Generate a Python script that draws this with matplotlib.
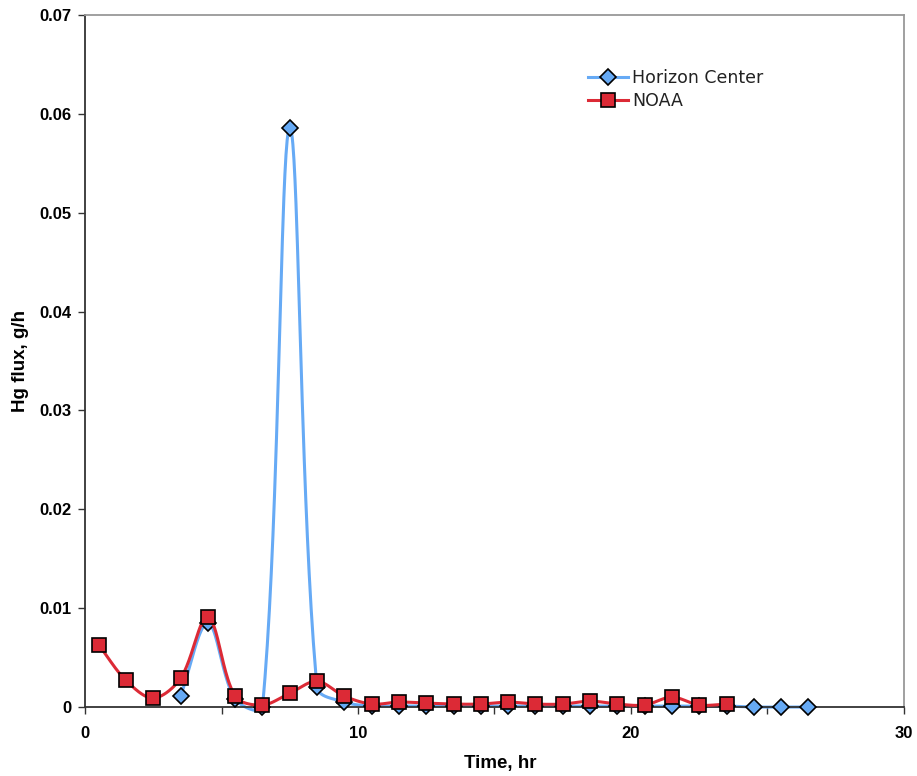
import numpy as np
import matplotlib
matplotlib.use("Agg")
import matplotlib.pyplot as plt

# Hg flux by hour
hc_time = [3.5, 4.5, 5.5, 6.5, 7.5, 8.5, 9.5, 10.5, 11.5, 12.5, 13.5, 14.5, 15.5,
           16.5, 17.5, 18.5, 19.5, 20.5, 21.5, 22.5, 23.5, 24.5, 25.5, 26.5]
hc_flux = [0.0011, 0.0085, 0.0008, 0.0000, 0.0586, 0.0020, 0.0005, 0.0001, 0.0001,
           0.0001, 0.0001, 0.0001, 0.0001, 0.0001, 0.0001, 0.0001, 0.0001, 0.0001,
           0.0001, 0.0001, 0.0001, 0.0000, 0.0000, 0.0000]

noaa_time = [0.5, 1.5, 2.5, 3.5, 4.5, 5.5, 6.5, 7.5, 8.5, 9.5, 10.5, 11.5, 12.5,
             13.5, 14.5, 15.5, 16.5, 17.5, 18.5, 19.5, 20.5, 21.5, 22.5, 23.5]
noaa_flux = [0.0063, 0.0027, 0.0009, 0.0029, 0.0091, 0.0011, 0.0002, 0.0014, 0.0026,
             0.0011, 0.0003, 0.0005, 0.0004, 0.0003, 0.0003, 0.0005, 0.0003, 0.0003,
             0.0006, 0.0003, 0.0002, 0.0010, 0.0002, 0.0003]


def smooth(ax, x, y, n=40):
    # smoothed line like Excel's: bezier segments, control points scaled by
    # segment lengths in screen space so spikes don't overshoot too much
    pts = ax.transData.transform(np.column_stack([x, y]))
    p = np.vstack([pts[0], pts, pts[-1]])
    t = np.linspace(0, 1, n)[:, None]
    out = []
    for i in range(1, len(p) - 2):
        p0, p1, p2, p3 = p[i - 1], p[i], p[i + 1], p[i + 2]
        d01 = np.hypot(*(p1 - p0))
        d12 = np.hypot(*(p2 - p1))
        d23 = np.hypot(*(p3 - p2))
        f1 = d12 / (d01 + d12) / 3 if d01 + d12 > 0 else 0
        f2 = d12 / (d12 + d23) / 3 if d12 + d23 > 0 else 0
        c1 = p1 + (p2 - p0) * f1
        c2 = p2 - (p3 - p1) * f2
        b = (1 - t) ** 3 * p1 + 3 * (1 - t) ** 2 * t * c1 + 3 * (1 - t) * t ** 2 * c2 + t ** 3 * p2
        out.append(b)
    out = np.vstack(out)
    data = ax.transData.inverted().transform(out)
    return data[:, 0], data[:, 1]


blue = "#66AAF5"
red = "#DC2A36"

fig = plt.figure(figsize=(9.17, 7.76), dpi=100)
ax = fig.add_axes([0.0927, 0.0889, 0.8931, 0.8918])
ax.set_xlim(0, 30)
ax.set_ylim(0, 0.07)

sx, sy = smooth(ax, hc_time, hc_flux)
ax.plot(sx, sy, color=blue, lw=2.2, zorder=2, clip_on=False)
ax.plot(hc_time, hc_flux, ls="none", marker="D", ms=8.5, mfc=blue, mec="black", mew=1.2,
        zorder=3, clip_on=False)

sx, sy = smooth(ax, noaa_time, noaa_flux)
ax.plot(sx, sy, color=red, lw=2.2, zorder=4, clip_on=False)
ax.plot(noaa_time, noaa_flux, ls="none", marker="s", ms=10, mfc=red, mec="black", mew=1.2,
        zorder=5, clip_on=False)

# legend proxies
ax.plot([], [], color=blue, lw=2.2, marker="D", ms=8.5, mfc=blue, mec="black", mew=1.2, label="Horizon Center")
ax.plot([], [], color=red, lw=2.2, marker="s", ms=10, mfc=red, mec="black", mew=1.2, label="NOAA")
leg = ax.legend(loc="upper left", bbox_to_anchor=(0.614, 0.922), frameon=False,
                prop={"family": "DejaVu Sans", "size": 12.5}, handlelength=2.3,
                handletextpad=0.25, labelspacing=0.3, borderaxespad=0, borderpad=0)
for txt in leg.get_texts():
    txt.set_color("#222222")

ax.set_xticks([0, 10, 20, 30])
ax.set_xticks([5, 15, 25], minor=True)
ax.set_xticklabels(["0", "10", "20", "30"])
ax.set_yticks(np.arange(0, 0.071, 0.01))
ax.set_yticklabels(["0", "0.01", "0.02", "0.03", "0.04", "0.05", "0.06", "0.07"])
ax.tick_params(axis="both", which="both", direction="out", length=5, width=1, color="#333333")
ax.tick_params(axis="x", labelsize=12, pad=9)
ax.tick_params(axis="y", labelsize=12, pad=5)
for lab in ax.get_xticklabels() + ax.get_yticklabels():
    lab.set_fontfamily("Liberation Sans")
    lab.set_fontweight("bold")

ax.set_xlabel("Time, hr", fontsize=13.5, fontweight="bold", family="Liberation Sans")
ax.set_ylabel("Hg flux, g/h", fontsize=13.5, fontweight="bold", family="Liberation Sans")
ax.xaxis.set_label_coords(0.507, -0.069)
ax.yaxis.set_label_coords(-0.068, 0.5)

ax.spines["left"].set_color("#333333")
ax.spines["bottom"].set_color("#333333")
ax.spines["top"].set_color("#999999")
ax.spines["right"].set_color("#999999")
for s in ax.spines.values():
    s.set_linewidth(1.3)

fig.savefig("out.png", dpi=100)
